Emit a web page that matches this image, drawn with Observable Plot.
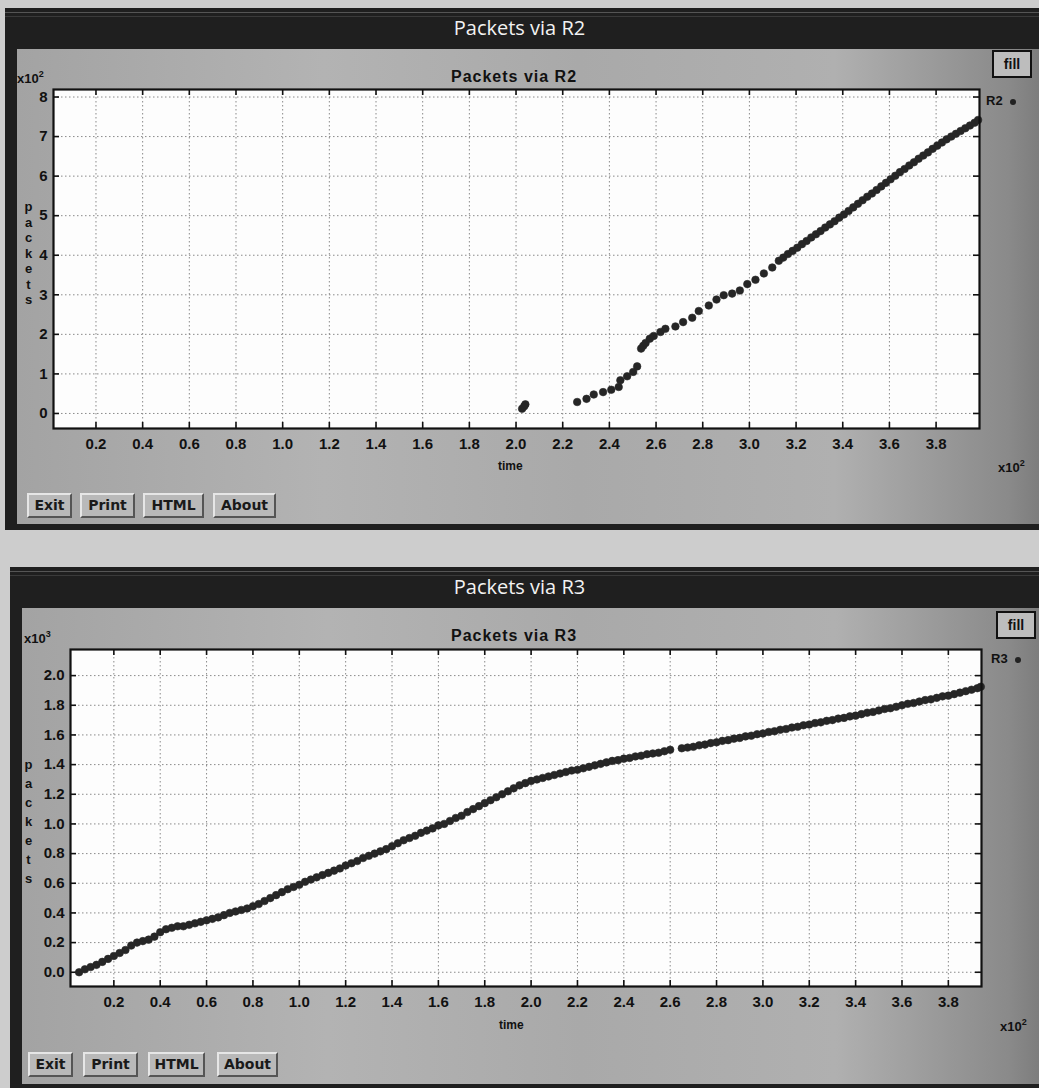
<!DOCTYPE html>
<html>
<head>
<meta charset="utf-8">
<script src="https://cdn.jsdelivr.net/npm/d3@7"></script>
<script src="https://cdn.jsdelivr.net/npm/@observablehq/plot@0.6"></script>
<style>
  html, body { margin: 0; padding: 0; }
  body { width: 1039px; height: 1088px; position: relative; overflow: hidden; background: #cdcdcd; font-family: "Liberation Sans", Arial, sans-serif; }
  .abs { position: absolute; }
  .frameDark { background: #1f1f1f; }
  .winBody { background: linear-gradient(90deg, #a3a3a3 0%, #b3b3b3 30%, #a9a9a9 55%, #b0b0b0 80%, #8a8a8a 97%, #7d7d7d 100%); }
  .winTitle { color: #f2f2f2; font-family: "Open Sans", "DejaVu Sans", sans-serif; font-size: 20px; white-space: nowrap; }
  .innerTitle { font-weight: bold; font-size: 16px; letter-spacing: 1px; color: #111; white-space: nowrap; }
  .mult { font-weight: bold; font-size: 13px; color: #111; white-space: nowrap; }
  .mult sup { font-size: 9px; position: relative; top: -1px; }
  .fillBtn { border: 2px solid #111; background: #bdbdbd; font-weight: bold; font-size: 14px; color: #111; text-align: center; box-sizing: border-box; }
  .legend { font-weight: bold; font-size: 13px; color: #111; white-space: nowrap; }
  .ldot { display: inline-block; width: 6px; height: 6px; border-radius: 50%; background: #222; }
  .ylab { font-weight: bold; font-size: 13px; color: #111; text-align: center; width: 13px; }
  .xlab { font-weight: bold; font-size: 12px; color: #111; }
  .btn { box-sizing: border-box; border-top: 2px solid #e6e6e6; border-left: 2px solid #e6e6e6; border-right: 2px solid #555; border-bottom: 2px solid #555; background: #b9b9b9; font-family: "DejaVu Sans", sans-serif; font-size: 14px; font-weight: bold; color: #1a1a1a; text-align: center; line-height: 21px; }
  svg.plot { background: transparent; }
</style>
</head>
<body>
<script>
// ---------- data (time in x10^2, packets in axis units) ----------
const r2Title = "Packets via R2";
const r3Title = "Packets via R3";
const xTicks = [0.2, 0.4, 0.6, 0.8, 1.0, 1.2, 1.4, 1.6, 1.8, 2.0, 2.2, 2.4, 2.6, 2.8, 3.0, 3.2, 3.4, 3.6, 3.8];
const r2YTicks = [0, 1, 2, 3, 4, 5, 6, 7, 8];
const r3YTicks = [0.0, 0.2, 0.4, 0.6, 0.8, 1.0, 1.2, 1.4, 1.6, 1.8, 2.0];
const buttonLabels = ["Exit", "Print", "HTML", "About"];

// R2 packets (x10^2) vs time (x10^2)
const r2Time = [2.026, 2.035, 2.040, 2.262, 2.302, 2.333, 2.373, 2.408, 2.440, 2.447, 2.476, 2.502, 2.519, 2.536, 2.545, 2.555, 2.573, 2.590, 2.619, 2.640, 2.683, 2.716, 2.755, 2.783, 2.826, 2.859, 2.890, 2.926, 2.959, 2.991, 3.026, 3.062, 3.098, 3.126,
  3.145, 3.165, 3.185, 3.205, 3.225, 3.245, 3.265, 3.285, 3.305, 3.325, 3.345, 3.365, 3.385, 3.405, 3.425, 3.445, 3.465, 3.485, 3.505, 3.525, 3.545, 3.565, 3.585, 3.605, 3.625, 3.645, 3.665, 3.685, 3.705, 3.725, 3.745, 3.765, 3.785, 3.805, 3.825, 3.845, 3.865, 3.885, 3.905, 3.925, 3.945, 3.965, 3.980];
const r2Packets = [0.12, 0.18, 0.23, 0.29, 0.37, 0.48, 0.54, 0.60, 0.67, 0.84, 0.94, 1.05, 1.19, 1.64, 1.71, 1.78, 1.89, 1.96, 2.06, 2.14, 2.20, 2.31, 2.42, 2.59, 2.73, 2.88, 2.99, 3.03, 3.11, 3.27, 3.38, 3.54, 3.69, 3.86,
  3.94, 4.03, 4.11, 4.19, 4.28, 4.36, 4.45, 4.53, 4.61, 4.70, 4.78, 4.86, 4.95, 5.03, 5.12, 5.21, 5.30, 5.39, 5.48, 5.56, 5.65, 5.74, 5.83, 5.92, 6.01, 6.10, 6.18, 6.27, 6.35, 6.44, 6.52, 6.60, 6.69, 6.77, 6.85, 6.93, 7.00, 7.07, 7.14, 7.21, 7.28, 7.35, 7.42];

// R3 packets (x10^3) vs time (x10^2)
const r3Time = [0.05, 0.075, 0.10, 0.125, 0.15, 0.175, 0.20, 0.225, 0.25, 0.275, 0.30, 0.325, 0.35, 0.375, 0.40, 0.425, 0.45, 0.475, 0.50, 0.525, 0.55, 0.575, 0.60, 0.625, 0.65, 0.675, 0.70, 0.725, 0.75, 0.775, 0.80, 0.825, 0.85, 0.875, 0.90, 0.925, 0.95, 0.975,
  1.00, 1.025, 1.05, 1.075, 1.10, 1.125, 1.15, 1.175, 1.20, 1.225, 1.25, 1.275, 1.30, 1.325, 1.35, 1.375, 1.40, 1.425, 1.45, 1.475, 1.50, 1.525, 1.55, 1.575, 1.60, 1.625, 1.65, 1.675, 1.70, 1.725, 1.75, 1.775, 1.80, 1.825, 1.85, 1.875, 1.90, 1.925, 1.95, 1.975,
  2.00, 2.025, 2.05, 2.075, 2.10, 2.125, 2.15, 2.175, 2.20, 2.225, 2.25, 2.275, 2.30, 2.325, 2.35, 2.375, 2.40, 2.425, 2.45, 2.475, 2.50, 2.525, 2.55, 2.575, 2.60, 2.65, 2.675, 2.70, 2.725, 2.75, 2.775, 2.80, 2.825, 2.85, 2.875, 2.90, 2.925, 2.95, 2.975,
  3.00, 3.025, 3.05, 3.075, 3.10, 3.125, 3.15, 3.175, 3.20, 3.225, 3.25, 3.275, 3.30, 3.325, 3.35, 3.375, 3.40, 3.425, 3.45, 3.475, 3.50, 3.525, 3.55, 3.575, 3.60, 3.625, 3.65, 3.675, 3.70, 3.725, 3.75, 3.775, 3.80, 3.825, 3.85, 3.875, 3.90, 3.925, 3.94];
const r3Packets = [0.00, 0.02, 0.035, 0.05, 0.07, 0.09, 0.11, 0.13, 0.15, 0.18, 0.20, 0.21, 0.22, 0.24, 0.27, 0.29, 0.30, 0.31, 0.31, 0.32, 0.33, 0.34, 0.35, 0.36, 0.37, 0.385, 0.40, 0.41, 0.42, 0.43, 0.445, 0.46, 0.48, 0.50, 0.52, 0.54, 0.56, 0.575,
  0.59, 0.61, 0.625, 0.64, 0.655, 0.67, 0.685, 0.70, 0.72, 0.735, 0.75, 0.77, 0.785, 0.80, 0.815, 0.83, 0.85, 0.87, 0.89, 0.905, 0.92, 0.94, 0.955, 0.97, 0.99, 1.00, 1.02, 1.04, 1.055, 1.08, 1.10, 1.12, 1.14, 1.16, 1.18, 1.20, 1.22, 1.24, 1.26, 1.275,
  1.29, 1.30, 1.31, 1.32, 1.33, 1.34, 1.35, 1.36, 1.365, 1.375, 1.385, 1.395, 1.405, 1.415, 1.425, 1.43, 1.44, 1.445, 1.455, 1.46, 1.47, 1.475, 1.48, 1.49, 1.50, 1.51, 1.515, 1.52, 1.53, 1.535, 1.545, 1.55, 1.56, 1.565, 1.575, 1.58, 1.59, 1.595, 1.605,
  1.61, 1.62, 1.625, 1.635, 1.64, 1.65, 1.655, 1.665, 1.67, 1.68, 1.685, 1.695, 1.70, 1.71, 1.715, 1.725, 1.73, 1.74, 1.75, 1.755, 1.765, 1.775, 1.78, 1.79, 1.80, 1.81, 1.815, 1.825, 1.835, 1.84, 1.85, 1.86, 1.865, 1.875, 1.885, 1.895, 1.905, 1.915, 1.925];

// ---------- layout helpers ----------
function el(cls, style, html) {
  const d = document.createElement("div");
  d.className = "abs " + (cls || "");
  Object.assign(d.style, style);
  if (html != null) d.innerHTML = html;
  document.body.appendChild(d);
  return d;
}

function windowChrome(cfg) {
  el("frameDark", {left: cfg.left + "px", top: cfg.top + "px", width: (1039 - cfg.left) + "px", height: cfg.height + "px"});
  el("", {left: cfg.left + "px", top: (cfg.top + 4) + "px", width: (1039 - cfg.left) + "px", height: "1px", background: "#555"});
  el("", {left: cfg.left + "px", top: (cfg.top + 8) + "px", width: (1039 - cfg.left) + "px", height: "1px", background: "#3a3a3a"});
  el("winBody", {left: cfg.bodyLeft + "px", top: cfg.bodyTop + "px", width: (1039 - cfg.bodyLeft) + "px", height: cfg.bodyHeight + "px"});
  el("winTitle", {left: "0px", width: "1039px", textAlign: "center", top: cfg.titleTop + "px"}, cfg.title);
  el("innerTitle", {left: "0px", width: "1028px", textAlign: "center", top: cfg.innerTop + "px"}, cfg.title);
  el("mult", {left: cfg.yMultLeft + "px", top: cfg.yMultTop + "px"}, "x10<sup>" + cfg.yExp + "</sup>");
  el("fillBtn", {left: cfg.fillLeft + "px", top: cfg.fillTop + "px", width: "40px", height: "28px", lineHeight: "24px"}, "fill");
  el("legend", {left: cfg.legLeft + "px", top: cfg.legTop + "px"}, cfg.series + ' &nbsp;<span class="ldot"></span>');
  "packets".split("").forEach((ch, i) => {
    el("ylab", {left: cfg.ylabLeft + "px", top: (cfg.ylabTop + i * cfg.ylabStep) + "px"}, ch);
  });
  el("xlab", {left: cfg.timeLeft + "px", top: cfg.timeTop + "px"}, "time");
  el("mult", {left: cfg.xMultLeft + "px", top: cfg.xMultTop + "px"}, "x10<sup>2</sup>");
  const bx = cfg.buttonsX;
  buttonLabels.forEach((b, i) => {
    el("btn", {left: bx[i][0] + "px", width: (bx[i][1] - bx[i][0]) + "px", top: cfg.btnTop + "px", height: "25px"}, b);
  });
}

function makePlot(cfg) {
  const W = 1039, H = cfg.height;
  const fw = W - cfg.ml - cfg.mr, fh = H - cfg.mt - cfg.mb;
  const data = cfg.time.map((t, i) => ({time: t, packets: cfg.packets[i]}));
  const p = Plot.plot({
    width: W, height: H,
    marginLeft: cfg.ml, marginRight: cfg.mr, marginTop: cfg.mt, marginBottom: cfg.mb,
    style: {background: "transparent", fontFamily: "Liberation Sans, Arial, sans-serif", fontSize: "15px", fontWeight: "bold", color: "#111", overflow: "visible"},
    x: {domain: cfg.xDomain},
    y: {domain: cfg.yDomain},
    marks: [
      Plot.frame({fill: "#fdfdfd", stroke: null}),
      Plot.gridX(xTicks, {stroke: "#8a8a8a", strokeOpacity: 1, strokeWidth: 1, strokeDasharray: "1.5,2.5"}),
      Plot.gridY(cfg.yTicks, {stroke: "#8a8a8a", strokeOpacity: 1, strokeWidth: 1, strokeDasharray: "1.5,2.5"}),
      Plot.tickX(xTicks, {x: d => d, insetTop: fh - 6, stroke: "#111", strokeWidth: 1.6}),
      Plot.tickX(xTicks, {x: d => d, insetBottom: fh - 6, stroke: "#111", strokeWidth: 1.6}),
      Plot.tickY(cfg.yTicks, {y: d => d, insetRight: fw - 6, stroke: "#111", strokeWidth: 1.6}),
      Plot.tickY(cfg.yTicks, {y: d => d, insetLeft: fw - 6, stroke: "#111", strokeWidth: 1.6}),
      Plot.dot(data, {x: "time", y: "packets", r: cfg.r, fill: "#262626", stroke: "#262626", strokeWidth: 0.6}),
      Plot.frame({stroke: "#111", strokeWidth: 2.2}),
      Plot.axisX(xTicks, {anchor: "bottom", tickSize: 0, tickPadding: 10, tickFormat: d3.format(".1f"), label: null, fontSize: 15, fontWeight: "bold", fill: "#111"}),
      Plot.axisY(cfg.yTicks, {anchor: "left", tickSize: 0, tickPadding: 6, tickFormat: cfg.yFormat, label: null, fontSize: 15, fontWeight: "bold", fill: "#111"})
    ]
  });
  p.style.position = "absolute";
  p.style.left = "0px";
  p.style.top = cfg.top + "px";
  p.style.background = "transparent";
  document.body.appendChild(p);
}

// ---------- window 1 : R2 ----------
windowChrome({
  left: 5, top: 8, height: 522, bodyLeft: 17, bodyTop: 49, bodyHeight: 475,
  title: r2Title, titleTop: 14, innerTop: 68, yMultLeft: 17, yMultTop: 70, yExp: "2",
  fillLeft: 992, fillTop: 50, legLeft: 986, legTop: 93, series: "R2",
  ylabLeft: 22, ylabTop: 199, ylabStep: 15.5,
  timeLeft: 498, timeTop: 459, xMultLeft: 998, xMultTop: 459,
  buttonsX: [[27, 72], [80, 135], [143, 204], [213, 276]], btnTop: 493
});
makePlot({
  top: 48, height: 432, ml: 53, mr: 60, mt: 41, mb: 52,
  xDomain: [0.018, 3.986], yDomain: [-0.38, 8.19], yTicks: r2YTicks, yFormat: d3.format("d"),
  time: r2Time, packets: r2Packets, r: 3.8
});

// ---------- window 2 : R3 ----------
windowChrome({
  left: 10, top: 567, height: 521, bodyLeft: 22, bodyTop: 608, bodyHeight: 476,
  title: r3Title, titleTop: 573, innerTop: 627, yMultLeft: 24, yMultTop: 630, yExp: "3",
  fillLeft: 996, fillTop: 611, legLeft: 991, legTop: 651, series: "R3",
  ylabLeft: 22, ylabTop: 757, ylabStep: 19,
  timeLeft: 499, timeTop: 1018, xMultLeft: 1000, xMultTop: 1018,
  buttonsX: [[28, 73], [83, 138], [148, 205], [217, 278]], btnTop: 1052
});
makePlot({
  top: 608, height: 432, ml: 70, mr: 58, mt: 41, mb: 54,
  xDomain: [0.013, 3.943], yDomain: [-0.096, 2.176], yTicks: r3YTicks, yFormat: d3.format(".1f"),
  time: r3Time, packets: r3Packets, r: 3.8
});
</script>
</body>
</html>
